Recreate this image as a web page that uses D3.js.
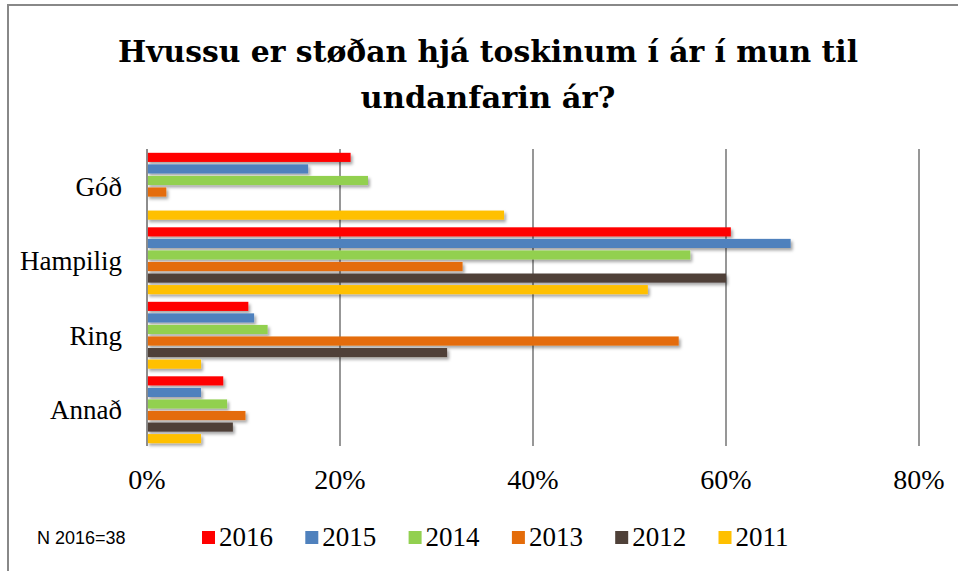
<!DOCTYPE html>
<html><head>
<meta charset="utf-8">
<title>Hvussu er støðan hjá toskinum</title>
<script src="https://d3js.org/d3.v7.min.js"></script>
<style>
body { margin: 0; background: #fff; }
svg { display: block; }
.serif { font-family: 'Liberation Serif', 'DejaVu Serif', serif; fill: #000; }
.title { font-family: 'DejaVu Serif', serif; font-weight: bold; fill: #000; }
</style>
</head>
<body>
<div class="hull"></div>
<script>
// data
const categories = ["Góð", "Hampilig", "Ring", "Annað"];
const years = ["2016", "2015", "2014", "2013", "2012", "2011"];
const v2016 = [21.1, 60.5, 10.5, 7.9];
const v2015 = [16.7, 66.7, 11.1, 5.6];
const v2014 = [22.9, 56.3, 12.5, 8.3];
const v2013 = [2.0, 32.7, 55.1, 10.2];
const v2012 = [null, 60.0, 31.1, 8.9];
const v2011 = [37.0, 51.9, 5.6, 5.6];
const ticks = [0, 20, 40, 60, 80];
const titleLines = ["Hvussu er støðan hjá toskinum í ár í mun til", "undanfarin ár?"];
const titleWidths = [740, 255];
const note = "N 2016=38";

const series = [v2016, v2015, v2014, v2013, v2012, v2011];
const colors = d3.scaleOrdinal(years,
    ["#ff0000", "#4f81bd", "#92d050", "#e46c0a", "#4f4139", "#ffc000"]);

const w = 958, h = 571;
const svg = d3.select(".hull").append("svg")
    .attr("width", w).attr("height", h);

const defs = svg.append("defs");
defs.append("filter").attr("id", "shadow")
    .attr("x", "-5%").attr("y", "-40%").attr("width", "115%").attr("height", "200%")
  .append("feDropShadow")
    .attr("dx", 2).attr("dy", 2.5).attr("stdDeviation", 1.6)
    .attr("flood-color", "#000").attr("flood-opacity", 0.35);

// outer frame (runs off the right and bottom edges)
svg.append("path")
    .attr("d", "M8," + (h + 5) + "V5H" + (w + 5))
    .attr("fill", "none").attr("stroke", "#888").attr("stroke-width", 2);

// title
svg.append("g").selectAll("text")
  .data(titleLines)
  .join("text")
    .attr("class", "title")
    .attr("x", 488)
    .attr("y", (d, i) => 62 + i * 46)
    .attr("text-anchor", "middle")
    .attr("textLength", (d, i) => titleWidths[i])
    .attr("lengthAdjust", "spacingAndGlyphs")
    .style("font-size", "29px")
    .text(d => d);

const x = d3.scaleLinear([0, 80], [147, 919]);
const y = d3.scaleBand(categories, [149, 447]);
const yy = d3.scaleBand(years, [0, y.bandwidth()]).paddingInner(0.21).paddingOuter(0.33);

// gridlines
svg.append("g").selectAll("line")
  .data(ticks)
  .join("line")
    .attr("x1", d => x(d)).attr("x2", d => x(d))
    .attr("y1", 149).attr("y2", 446)
    .attr("stroke", "#8c8c8c").attr("stroke-width", 1.8);

// bars
const rows = [];
categories.forEach((c, ci) => {
  years.forEach((yr, si) => {
    if (series[si][ci] != null) rows.push({cat: c, year: yr, v: series[si][ci]});
  });
});

svg.append("g").attr("filter", "url(#shadow)")
  .selectAll("rect")
  .data(rows)
  .join("rect")
    .attr("x", x(0))
    .attr("y", d => y(d.cat) + yy(d.year))
    .attr("width", d => x(d.v) - x(0))
    .attr("height", yy.bandwidth())
    .attr("fill", d => colors(d.year));

// axis line on top of bars
svg.append("line")
    .attr("x1", x(0)).attr("x2", x(0)).attr("y1", 149).attr("y2", 446)
    .attr("stroke", "#8c8c8c").attr("stroke-width", 1.8);

// category labels
svg.append("g").selectAll("text")
  .data(categories)
  .join("text")
    .attr("class", "serif")
    .attr("x", 122)
    .attr("y", d => y(d) + y.bandwidth() / 2)
    .attr("dy", "0.35em")
    .attr("text-anchor", "end")
    .style("font-size", "27px")
    .text(d => d);

// x tick labels
svg.append("g").selectAll("text")
  .data(ticks)
  .join("text")
    .attr("class", "serif")
    .attr("x", d => x(d))
    .attr("y", 489)
    .attr("text-anchor", "middle")
    .style("font-size", "28px")
    .text(d => d + "%");

// note
svg.append("text")
    .attr("x", 37).attr("y", 544)
    .style("font-family", "'Liberation Sans', Arial, sans-serif")
    .style("font-size", "18px")
    .text(note);

// legend
const lg = svg.append("g").selectAll("g")
  .data(years)
  .join("g")
    .attr("transform", (d, i) => "translate(" + (202 + i * 103.3) + ",531)");
lg.append("rect")
    .attr("width", 13).attr("height", 13)
    .attr("fill", d => colors(d));
lg.append("text")
    .attr("class", "serif")
    .attr("x", 17).attr("y", 15)
    .style("font-size", "27px")
    .text(d => d);
</script>
</body>
</html>
